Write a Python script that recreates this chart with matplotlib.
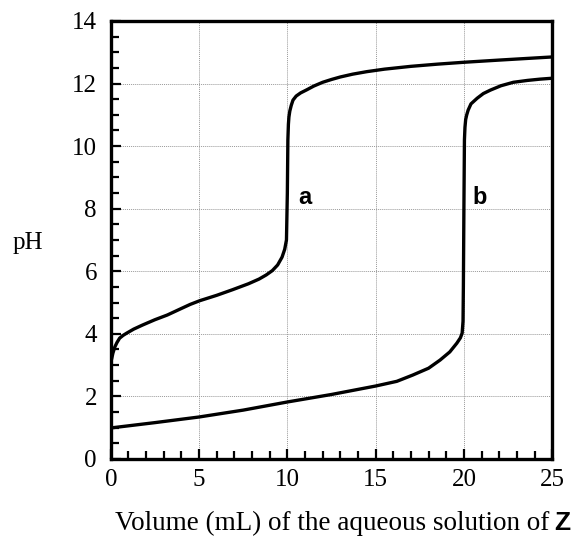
"""
Titration curves a and b: pH vs volume of Z
"""
import numpy as np
import matplotlib.pyplot as plt
from matplotlib.ticker import MultipleLocator

# curve a
vol_a = [0.0, 0.05, 0.12, 0.23, 0.35, 0.5, 0.7, 0.9, 1.3, 1.8, 2.5, 3.2, 4.0, 4.5, 5.05, 6.0,
         6.9, 7.8, 8.4, 8.8, 9.15, 9.45, 9.7, 9.85, 9.95, 10.0, 10.03, 10.06, 10.09,
         10.14, 10.22, 10.32, 10.5, 10.75, 11.1, 11.5, 12.0, 12.5, 13.0, 13.7,
         14.5, 15.5, 17.0, 18.5, 20.0, 22.0, 25.0]
ph_a = [3.1, 3.2, 3.38, 3.58, 3.72, 3.86, 3.95, 4.02, 4.15, 4.28, 4.45, 4.6, 4.81, 4.94, 5.06, 5.23,
        5.41, 5.6, 5.75, 5.88, 6.02, 6.2, 6.45, 6.7, 7.0, 8.5, 10.2, 10.7, 10.93,
        11.12, 11.3, 11.47, 11.6, 11.7, 11.8, 11.92, 12.04, 12.13, 12.21, 12.3,
        12.38, 12.46, 12.55, 12.62, 12.68, 12.75, 12.85]

# curve b
vol_b = [0.0, 2.5, 5.0, 7.5, 10.0, 12.5, 15.0, 16.2, 17.1, 18.0, 18.65, 19.2, 19.6,
         19.8, 19.9, 19.95, 19.97, 20.0, 20.03, 20.06, 20.1, 20.16, 20.24, 20.4, 20.75,
         21.1, 21.5, 22.1, 22.8, 23.6, 24.3, 25.0]
ph_b = [0.99, 1.16, 1.34, 1.56, 1.82, 2.06, 2.33, 2.48, 2.68, 2.9, 3.16, 3.42, 3.7,
        3.87, 4.02, 4.4, 5.5, 8.0, 10.2, 10.6, 10.85, 11.0, 11.15, 11.35, 11.53,
        11.68, 11.79, 11.93, 12.04, 12.1, 12.14, 12.17]

x_major = [0, 5, 10, 15, 20, 25]
y_major = [0, 2, 4, 6, 8, 10, 12, 14]

plt.rcParams['font.family'] = ['Liberation Serif', 'DejaVu Serif']

fig = plt.figure(figsize=(5.74, 5.38), dpi=100)
ax = fig.add_axes([0.193, 0.147, 0.769, 0.814])

ax.plot(vol_a, ph_a, color='black', lw=2.4, solid_joinstyle='round', solid_capstyle='butt')
ax.plot(vol_b, ph_b, color='black', lw=2.4, solid_joinstyle='round', solid_capstyle='butt')

ax.set_xlim(0, 25)
ax.set_ylim(0, 14)
ax.set_xticks(x_major)
ax.set_yticks(y_major)
ax.xaxis.set_minor_locator(MultipleLocator(1))
ax.yaxis.set_minor_locator(MultipleLocator(0.5))
ax.tick_params(which='both', direction='in', width=1.6, labelsize=18)
ax.tick_params(which='major', length=7, pad=10)
ax.tick_params(which='minor', length=5.5)
ax.tick_params(axis='x', which='major', pad=7)

ax.grid(True, which='major', color='#999999', linestyle=(0, (1, 1)), linewidth=0.7)

for s in ax.spines.values():
    s.set_linewidth(2.4)

ax.text(10.6, 8.37, 'a', family='Liberation Sans', fontweight='bold', fontsize=17,
        ha='left', va='center')
ax.text(20.5, 8.37, 'b', family='Liberation Sans', fontweight='bold', fontsize=17,
        ha='left', va='center')

fig.text(28 / 574, 1 - 243 / 538, 'pH', fontsize=18, ha='center', va='center')
fig.text(549 / 574, 1 - 523 / 538, 'Volume (mL) of the aqueous solution of',
         fontsize=19.5, ha='right', va='center')
fig.text(554 / 574, 1 - 523 / 538, 'Z', family='Liberation Sans', fontweight='bold',
         fontsize=19, ha='left', va='center')

fig.savefig('out.png', dpi=100)
